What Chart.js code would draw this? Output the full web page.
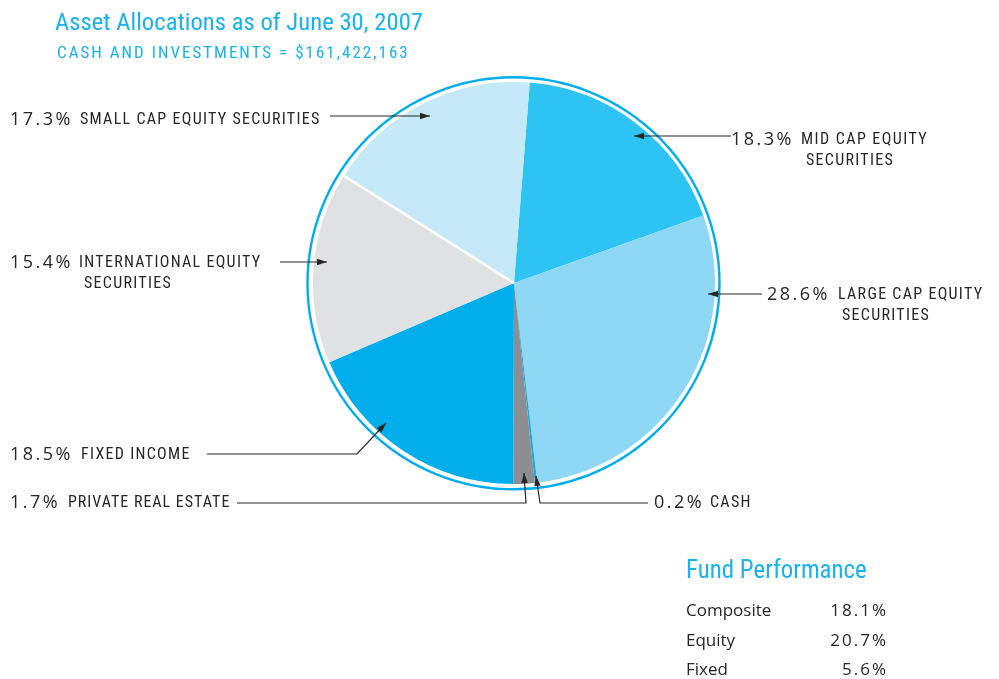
<!DOCTYPE html>
<html><head><meta charset="utf-8">
<script src="https://cdn.jsdelivr.net/npm/chart.js@4"></script>
<style>
html,body{margin:0;padding:0;background:#fff;}
#wrap{position:relative;width:999px;height:679px;overflow:hidden;}
#c{position:absolute;left:0;top:0;}
.t{position:absolute;white-space:nowrap;color:#262626;font-family:'Liberation Sans Narrow','Roboto Condensed',Roboto,sans-serif;line-height:20px;}
.pct{font-size:18px;letter-spacing:2.5px;font-family:'Open Sans',sans-serif;}
.lab{font-size:16px;letter-spacing:1.3px;}
.blue{color:#19b2ec;}
</style></head>
<body><div id="wrap"><canvas id="c" width="999" height="679"></canvas></div>
<script>
const sliceOrder = ["MID CAP EQUITY SECURITIES","LARGE CAP EQUITY SECURITIES","CASH","PRIVATE REAL ESTATE","FIXED INCOME","INTERNATIONAL EQUITY SECURITIES","SMALL CAP EQUITY SECURITIES"];
const allocations = [18.3, 28.6, 0.2, 1.7, 18.5, 15.4, 17.3];
const sliceColors = ["#2dc4f3","#8fd8f5","#1ba9e0","#8c8e91","#00aeec","#e0e1e3","#c5e9f8"];
const perfNames = ["Composite","Equity","Fixed"];
const perfValues = [18.1, 20.7, 5.6];
const title = "Asset Allocations as of June 30, 2007";
const subtitle = "CASH AND INVESTMENTS = $161,422,163";

const labelLayout = [
  {i:6, x:10, y:108, lines:["SMALL CAP EQUITY SECURITIES"], lx:80, l2:80},
  {i:0, x:731, y:128, lines:["MID CAP EQUITY","SECURITIES"], lx:801, l2:806, ls:1.45},
  {i:1, x:767, y:283, lines:["LARGE CAP EQUITY","SECURITIES"], lx:838, l2:842},
  {i:5, x:10, y:251, lines:["INTERNATIONAL EQUITY","SECURITIES"], lx:79, l2:84},
  {i:4, x:10, y:443, lines:["FIXED INCOME"], lx:81, l2:81},
  {i:3, x:10, y:491, lines:["PRIVATE REAL ESTATE"], lx:68, l2:68, ls:1.0},
  {i:2, x:654, y:491, lines:["CASH"], lx:710, l2:710}
];
const arrows = [
  [[330,116],[430,116]],
  [[731,136],[634,136]],
  [[762,294],[708,294]],
  [[280,262],[327,262]],
  [[207,454],[357,454],[386,423]],
  [[237,503],[526,503],[524,473]],
  [[648,503],[540,503],[536,476]]
];

const wrap = document.getElementById('wrap');
function addText(txt, x, y, cls, style){
  const d=document.createElement('div'); d.className='t '+cls; d.textContent=txt;
  d.style.left=x+'px'; d.style.top=y+'px'; if(style) Object.assign(d.style, style); wrap.appendChild(d); return d;
}
addText(title, 55, 7, 'blue', {fontSize:'24.7px', lineHeight:'30px'});
addText(subtitle, 57, 42, 'blue', {fontSize:'17px', letterSpacing:'2px'});
labelLayout.forEach(L=>{
  addText(allocations[L.i].toFixed(1)+'%', L.x, L.y, 'pct');
  const st = L.ls ? {letterSpacing:L.ls+'px'} : null;
  addText(L.lines[0], L.lx, L.y+1, 'lab', st);
  if(L.lines[1]) addText(L.lines[1], L.l2, L.y+22, 'lab');
});
addText("Fund Performance", 686, 555, 'blue', {fontSize:'24.9px', lineHeight:'30px'});
perfNames.forEach((n,k)=>{
  addText(n, 686, 600+k*29.5, '', {fontSize:'17px', fontFamily:"'Open Sans',sans-serif"});
  const v=addText(perfValues[k].toFixed(1)+'%', 0, 600+k*29.5, '', {fontSize:'17px', letterSpacing:'2px', fontFamily:"'Open Sans',sans-serif"});
  v.style.left=''; v.style.right=(999-888)+'px';
});

const deco = {
  id:'deco',
  afterDatasetsDraw(chart){
    const ctx=chart.ctx; const meta=chart.getDatasetMeta(0);
    const a0=meta.data[0];
    const cx=a0.x, cy=a0.y, r=a0.outerRadius;
    ctx.save();
    const sm=meta.data[6];
    ctx.strokeStyle='#fff'; ctx.lineWidth=2.5;
    ctx.beginPath(); ctx.moveTo(cx,cy); ctx.lineTo(cx+Math.cos(sm.startAngle)*r, cy+Math.sin(sm.startAngle)*r); ctx.stroke();
    ctx.strokeStyle='#00aeef'; ctx.lineWidth=2.4;
    ctx.beginPath(); ctx.arc(cx-0.5,cy+0.3,r+5,0,Math.PI*2); ctx.stroke();
    ctx.strokeStyle='#262626'; ctx.fillStyle='#262626'; ctx.lineWidth=1.2;
    arrows.forEach(p=>{
      ctx.beginPath(); ctx.moveTo(p[0][0],p[0][1]);
      for(let k=1;k<p.length;k++) ctx.lineTo(p[k][0],p[k][1]);
      ctx.stroke();
      const a=p[p.length-2], b=p[p.length-1];
      const ang=Math.atan2(b[1]-a[1], b[0]-a[0]);
      const len=10, hw=3.2;
      ctx.beginPath(); ctx.moveTo(b[0],b[1]);
      ctx.lineTo(b[0]-Math.cos(ang)*len - Math.sin(ang)*hw, b[1]-Math.sin(ang)*len + Math.cos(ang)*hw);
      ctx.lineTo(b[0]-Math.cos(ang)*len + Math.sin(ang)*hw, b[1]-Math.sin(ang)*len - Math.cos(ang)*hw);
      ctx.closePath(); ctx.fill();
    });
    ctx.restore();
  }
};

new Chart(document.getElementById('c'), {
  type:'pie',
  data:{labels:sliceOrder, datasets:[{data:allocations, backgroundColor:sliceColors, borderWidth:0}]},
  options:{
    responsive:false, animation:false, rotation:4.5,
    layout:{padding:{left:313, top:82, right:284, bottom:195}},
    plugins:{legend:{display:false}, tooltip:{enabled:false}}
  },
  plugins:[deco]
});
</script></body></html>
